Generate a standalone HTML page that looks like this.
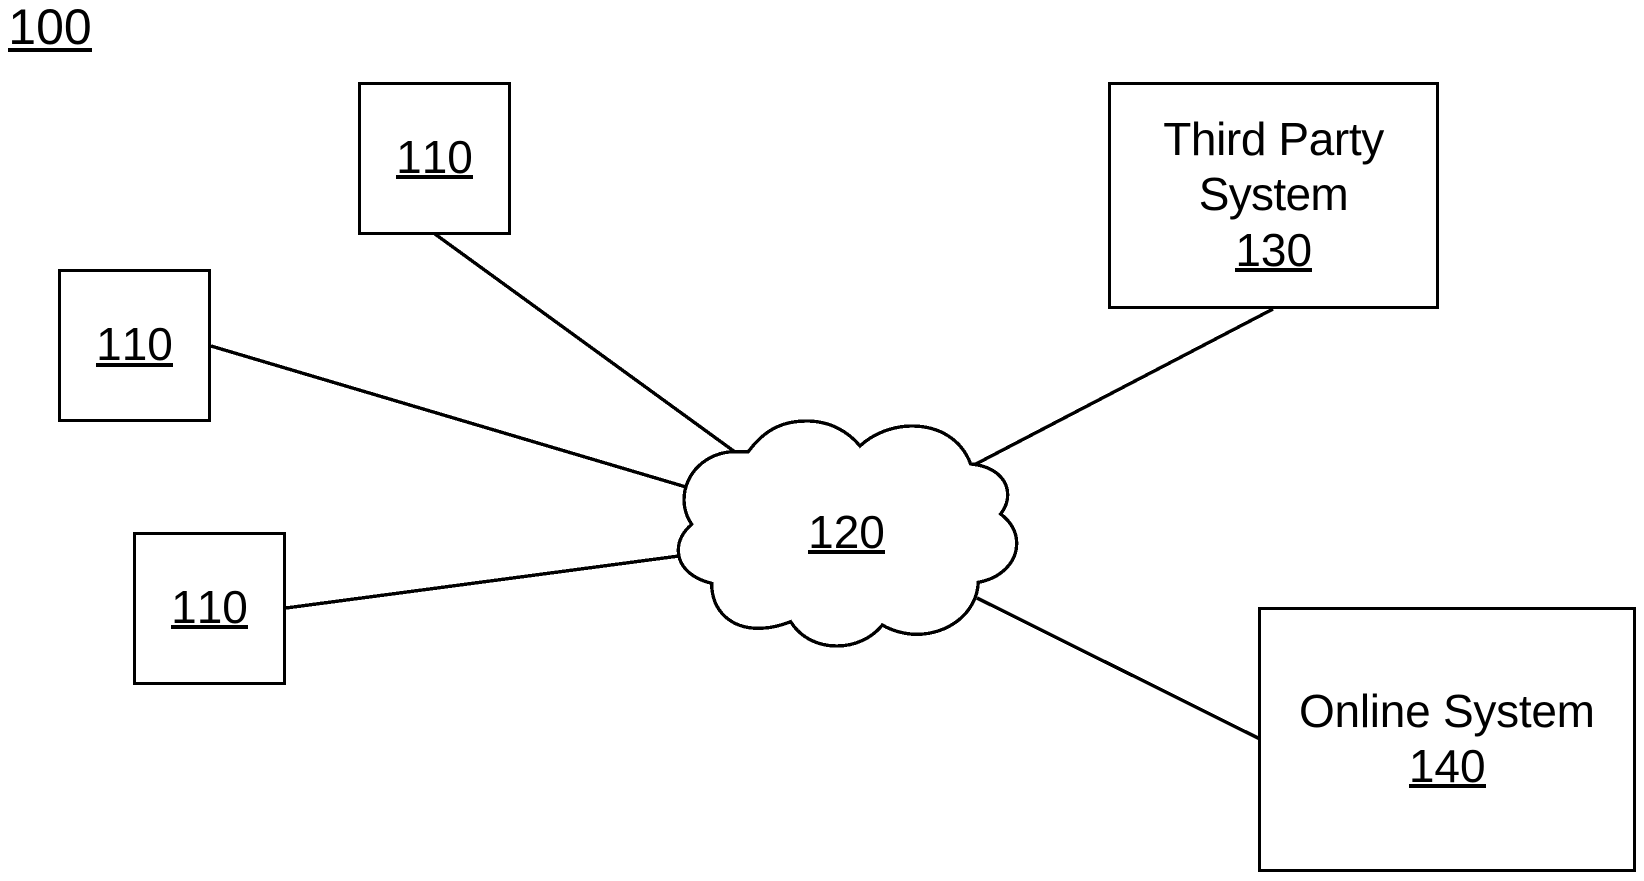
<!DOCTYPE html>
<html>
<head>
<meta charset="utf-8">
<style>
html,body{margin:0;padding:0;background:#fff;width:1644px;height:881px;overflow:hidden}
svg{display:block}
text{font-family:"Liberation Sans",Arial,sans-serif;font-size:46px;fill:#000;text-anchor:middle;font-kerning:none}
</style>
</head>
<body>
<svg width="1644" height="881" viewBox="0 0 1644 881" xmlns="http://www.w3.org/2000/svg">
<rect width="1644" height="881" fill="#fff"/>
<g stroke="#000" stroke-width="3" fill="none" shape-rendering="crispEdges">
<line x1="435" y1="234" x2="735" y2="452" stroke-width="3.4"/>
<line x1="211" y1="346" x2="686" y2="487" stroke-width="3.4"/>
<line x1="286" y1="608" x2="679" y2="556" stroke-width="3.4"/>
<line x1="1273" y1="309" x2="974" y2="465" stroke-width="3.4"/>
<line x1="977" y1="598" x2="1260" y2="739" stroke-width="3.4"/>
<rect x="359.5" y="83.5" width="150" height="150"/>
<rect x="59.5" y="270.5" width="150" height="150"/>
<rect x="134.5" y="533.5" width="150" height="150"/>
<rect x="1109.5" y="83.5" width="328" height="224"/>
<rect x="1259.5" y="608.5" width="375" height="262"/>
<path transform="translate(640 390) scale(0.33333)" stroke-width="10" fill="#fff" d="M325 185 C380 110,440 93,500 93 C570 93,625 125,660 168 C700 130,760 108,815 108 C900 108,965 150,992 222 C1060 228,1103 265,1103 315 C1103 335,1095 355,1082 372 C1112 395,1130 425,1130 460 C1130 520,1080 565,1015 577 C1010 670,925 733,830 733 C795 733,755 722,727 705 C695 745,645 768,590 768 C530 768,480 740,452 695 C420 708,390 715,355 715 C275 715,215 665,215 580 C155 565,115 530,115 480 C115 450,130 425,155 403 C140 380,132 355,132 330 C132 250,200 185,285 185 Z"/>
</g>
<text x="50" y="44" style="font-size:50px">100</text>
<rect x="8" y="48" width="84" height="4"/>
<text x="434.5" y="173">110</text>
<rect x="396" y="175" width="77" height="4"/>
<text x="134.5" y="360">110</text>
<rect x="96" y="363" width="77" height="4"/>
<text x="209.5" y="623">110</text>
<rect x="171" y="625" width="77" height="4"/>
<text x="846.5" y="548">120</text>
<rect x="808" y="550" width="77" height="4"/>
<text x="1273.7" y="155" textLength="221" lengthAdjust="spacing">Third Party</text>
<text x="1273.7" y="210" textLength="150" lengthAdjust="spacing">System</text>
<text x="1273.7" y="266">130</text>
<rect x="1235" y="268" width="77" height="4"/>
<text x="1447" y="727" textLength="296" lengthAdjust="spacing">Online System</text>
<text x="1447.2" y="782">140</text>
<rect x="1409" y="784" width="77" height="4"/>
</svg>
</body>
</html>
